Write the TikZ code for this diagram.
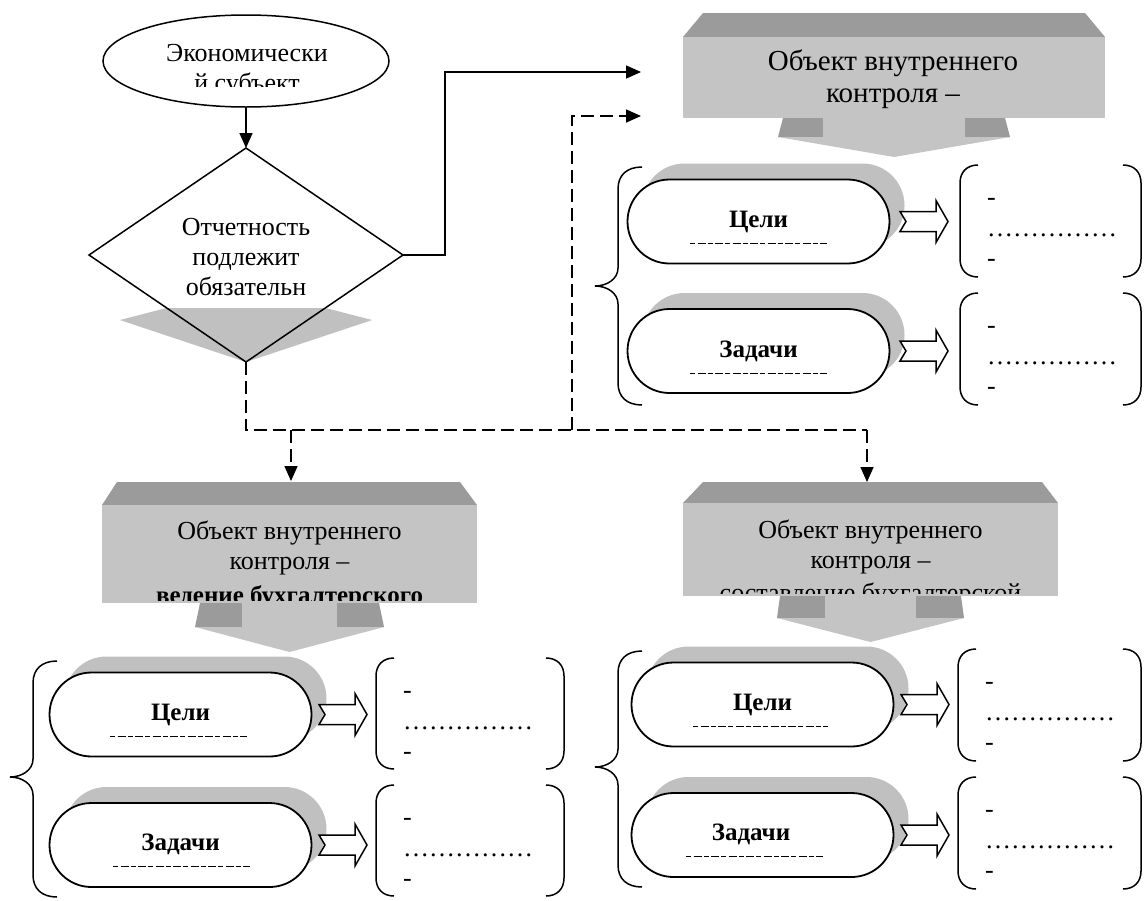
\documentclass[tikz,border=0pt]{standalone}
\usepackage{fontspec}
\setmainfont{Liberation Serif}
\usetikzlibrary{arrows.meta,shapes.geometric,shapes.misc}
\definecolor{boxtop}{RGB}{155,155,155}
\definecolor{boxface}{RGB}{196,196,196}
\definecolor{shadowgray}{RGB}{192,192,192}
\newcommand\myarrow[2]{\draw[line width=1.5pt,fill=white,line join=miter] (#1,#2-10) -- (#1+36,#2-10) -- (#1+36,#2-21) -- (#1+48,#2) -- (#1+36,#2+21) -- (#1+36,#2+10) -- (#1,#2+10) -- (#1+6,#2) -- cycle;}
\newcommand\myparen[5]{%
 \draw[line width=1.5pt] (#1+18,#3) .. controls (#1+7,#3) and (#1,#3+7) .. (#1,#3+18) -- (#1,#4-18) .. controls (#1,#4-7) and (#1+7,#4) .. (#1+18,#4);
 \draw[line width=1.5pt] (#2-18,#3) .. controls (#2-7,#3) and (#2,#3+7) .. (#2,#3+18) -- (#2,#4-18) .. controls (#2,#4-7) and (#2-7,#4) .. (#2-18,#4);
 \node[lbl,anchor=base west] (#5a) at (#1+27,#3+40) {-};
 \node[lbl,anchor=base west] (#5b) at (#1+27,#3+71) {……………};
 \node[lbl,anchor=base west] (#5c) at (#1+27,#3+101) {-};
}
\newcommand\mybrace[4]{\draw[line width=1.5pt] (#1+24,#2) .. controls (#1+9,#2) and (#1,#2+8) .. (#1,#2+22) -- (#1,#3-18) .. controls (#1,#3-7) and (#1-11,#3) .. (#1-23,#3) .. controls (#1-11,#3) and (#1,#3+7) .. (#1,#3+18) -- (#1,#4-22) .. controls (#1,#4-8) and (#1+9,#4) .. (#1+24,#4);}
\begin{document}
\begin{tikzpicture}[x=1pt,y=-1pt,
  ln/.style={line width=1.5pt},
  conn/.style={line width=1.6pt,-{Triangle[length=15pt,width=13pt]}},
  dline/.style={line width=1.6pt,dash pattern=on 13pt off 6pt},
  dconn/.style={dline,-{Triangle[length=15pt,width=13pt]}},
  lbl/.style={anchor=base,inner sep=0pt,font=\fontsize{26}{30}\selectfont},
  biglbl/.style={anchor=base,inner sep=0pt,font=\fontsize{29}{32}\selectfont},
  blbl/.style={anchor=base,inner sep=0pt,font=\fontsize{25}{30}\selectfont\bfseries},
  pillbox/.style={rounded rectangle,draw,line width=1.8pt,fill=white,minimum width=262pt,minimum height=84pt,inner sep=0pt,outer sep=0pt},
  pillsh/.style={rounded rectangle,fill=shadowgray,minimum width=262pt,minimum height=84pt,inner sep=0pt,outer sep=0pt},
  faint/.style={line width=0.9pt,dash pattern=on 5pt off 2.5pt on 8pt off 2pt},
  face/.style={fill=boxface,inner sep=0pt,outer sep=0pt}
]
\useasboundingbox (0,0) rectangle (1145,900);
\fill[white] (0,0) rectangle (1145,900);

% ---- economic subject ----
\node[ellipse,draw,ln,fill=white,minimum width=286pt,minimum height=92pt,inner sep=0pt] (eco) at (246,61) {};
\begin{scope}
\clip (100,20) rectangle (390,86);
\node[lbl] (eco1) at (247,61) {Экономически};
\node[lbl] (eco2) at (247,91) {й субъект};
\end{scope}

% ---- diamond ----
\node[diamond,fill=white,minimum width=314pt,minimum height=214pt,inner sep=0pt,outer sep=0pt] (dia) at (246,255) {};
\fill[shadowgray] (120,320) -- (166.5,308) -- (325.5,308) -- (372,320) -- (dia.south) -- cycle;
\draw[ln,line join=miter] (dia.north) -- (dia.east) -- (dia.south) -- (dia.west) -- cycle;
\node[lbl] (dia1) at (246,235) {Отчетность};
\node[lbl] (dia2) at (246,265) {подлежит};
\node[lbl] (dia3) at (246,295) {обязательн};

\draw[conn] (eco.south) -- (dia.north);

% ---- connector ends ----
\coordinate (trin1) at (641,72);
\coordinate (trin2) at (641,116);
\coordinate (bltop) at (291,481);
\coordinate (brtop) at (867,482);
\coordinate (jl) at (246,430);
\coordinate (jm) at (572,430);
\coordinate (jr) at (867,430);

\draw[conn] (dia.east) -- ++(42,0) |- (trin1);
\draw[dline] (dia.south) -- (jl) -- (jr);
\draw[dconn] (jm) |- (trin2);
\draw[dconn] (jl -| bltop) -- (bltop);
\draw[dconn] (jr) -- (brtop);

% ---- top-right object box ----
\fill[boxtop] (703,13) -- (1085,13) -- (1105,37) -- (683,37) -- cycle;
\node[face,minimum width=422pt,minimum height=81pt] (trbox) at (894,77.5) {};
\fill[boxtop] (783,118) -- (823,118) -- (823,137) -- (778,137) -- cycle;
\fill[boxtop] (965,118) -- (1005,118) -- (1010,137) -- (965,137) -- cycle;
\fill[boxface] (823,118) rectangle (965,137);
\fill[boxface] (778,137) -- (1010,137) -- (894,157) -- cycle;
\begin{scope}
\clip (683,37) rectangle (1105,118);
\node[biglbl] (tr1) at (893,70) {Объект внутреннего};
\node[biglbl] (tr2) at (893,102) {контроля –};
\end{scope}

% ---- bottom-left object box ----
\fill[boxtop] (117,482) -- (460,482) -- (477,505) -- (102,505) -- cycle;
\node[face,minimum width=375pt,minimum height=98pt] (blbox) at (289.5,554) {};
\fill[boxtop] (200,603) -- (242,603) -- (242,627) -- (195,627) -- cycle;
\fill[boxtop] (337,603) -- (379,603) -- (384,627) -- (337,627) -- cycle;
\fill[boxface] (242,603) rectangle (337,627);
\fill[boxface] (195,627) -- (384,627) -- (289.5,652) -- cycle;
\begin{scope}
\clip (102,505) rectangle (477,600);
\node[lbl] (bl1) at (289.5,539) {Объект внутреннего};
\node[lbl] (bl2) at (289.5,569) {контроля –};
\node[blbl] (bl3) at (289.5,603) {ведение бухгалтерского};
\end{scope}

% ---- bottom-right object box ----
\fill[boxtop] (703,482) -- (1042,482) -- (1058,503) -- (683,503) -- cycle;
\node[face,minimum width=375pt,minimum height=93pt] (brbox) at (870.5,549.5) {};
\fill[boxtop] (780,596) -- (825,596) -- (825,618) -- (777,618) -- cycle;
\fill[boxtop] (916,596) -- (961,596) -- (964,618) -- (916,618) -- cycle;
\fill[boxface] (825,596) rectangle (916,618);
\fill[boxface] (777,618) -- (964,618) -- (870.5,642) -- cycle;
\begin{scope}
\clip (683,503) rectangle (1058,593);
\node[lbl] (br1) at (870.5,538) {Объект внутреннего};
\node[lbl] (br2) at (870.5,568) {контроля –};
\node[lbl] (br3) at (870.5,601) {составление бухгалтерской};
\end{scope}

% ---- top-right group ----
\node[pillsh] (trs1) at (773.5,205.5) {};
\node[pillbox] (trp1) at (758.5,221.5) {};
\node[blbl] (trt1) at (758.5,227) {Цели};
\draw[faint] (690,243) -- (827,243);
\node[pillsh] (trs2) at (773.5,335) {};
\node[pillbox] (trp2) at (758.5,351) {};
\node[blbl] (trt2) at (758.5,357) {Задачи};
\draw[faint] (690,373) -- (827,373);
\myarrow{900}{221.5}
\myarrow{900}{351}
\myparen{960}{1141}{165}{277}{trpa}
\myparen{960}{1141}{293}{405}{trpb}
\mybrace{618}{167}{286}{405}

% ---- bottom-left group ----
\node[pillsh] (bls1) at (195.5,698.5) {};
\node[pillbox] (blp1) at (180.5,714.5) {};
\node[blbl] (blt1) at (180.5,720) {Цели};
\draw[faint] (110,736) -- (247,736);
\node[pillsh] (bls2) at (195.5,829) {};
\node[pillbox] (blp2) at (180.5,845) {};
\node[blbl] (blt2) at (180.5,850) {Задачи};
\draw[faint] (113,866) -- (250,866);
\myarrow{319}{714.5}
\myarrow{319}{845}
\myparen{376}{564}{658}{769}{blpa}
\myparen{376}{564}{785}{896}{blpb}
\mybrace{33}{661}{777}{897}

% ---- bottom-right group ----
\node[pillsh] (brs1) at (777.5,688.5) {};
\node[pillbox] (brp1) at (762.5,704.5) {};
\node[blbl] (brt1) at (762.5,710) {Цели};
\draw[faint] (693,726) -- (828,726);
\node[pillsh] (brs2) at (777.5,819) {};
\node[pillbox] (brp2) at (762.5,835) {};
\node[blbl] (brt2) at (751,840) {Задачи};
\draw[faint] (686,856) -- (823,856);
\myarrow{901}{704.5}
\myarrow{901}{835}
\myparen{958}{1141}{649}{761}{brpa}
\myparen{958}{1141}{777}{889}{brpb}
\mybrace{618}{651}{767}{887}
\end{tikzpicture}
\end{document}
